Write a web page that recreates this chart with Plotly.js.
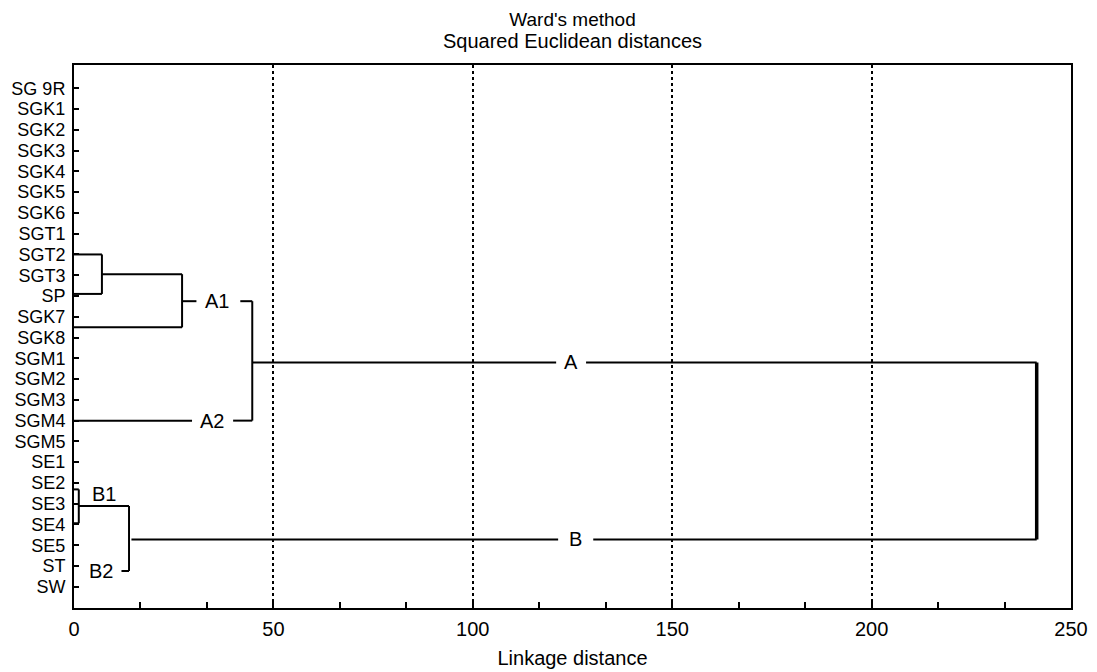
<!DOCTYPE html>
<html>
<head>
<meta charset="utf-8">
<script src="https://cdn.plot.ly/plotly-3.0.1.min.js"></script>
<style>
  html, body { margin: 0; padding: 0; background: #fff; }
  #chart { width: 1097px; height: 672px; }
</style>
</head>
<body>
<div id="chart"></div>
<script>
// ---- Data ----
const rowLabels = ['SG 9R','SGK1','SGK2','SGK3','SGK4','SGK5','SGK6','SGT1','SGT2','SGT3','SP','SGK7','SGK8',
                   'SGM1','SGM2','SGM3','SGM4','SGM5','SE1','SE2','SE3','SE4','SE5','ST','SW'];

// Dendrogram merges (linkage distance, row positions of the joined legs)
const mergeDist        = [7.0, 27.1, 44.7, 1.2, 13.8, 241.4];
const mergeRowTop      = [8.0, 8.95, 10.25, 19.31, 20.11, 13.2];
const mergeRowBottom   = [9.9, 11.51, 16.0, 20.94, 23.24, 21.72];
const mergeStartTop    = [0, 7.0, 27.1, 0, 1.2, 44.7];
const mergeStartBottom = [0, 0, 0, 0, 11.9, 14.4];

// Cluster labels (first four interrupt their legs)
const clusterLabels    = ['A1', 'A2', 'A', 'B', 'B1', 'B2'];
const clusterLabelDist = [35.8, 34.5, 124.65, 125.8, 7.6, 6.8];
const clusterLabelRow  = [10.25, 16.0, 13.2, 21.72, 19.53, 23.24];
const gapFrom = [30.7, 29.6, 120.9, 121.4];
const gapTo   = [41.7, 39.9, 128.4, 130.2];

const xTickVals = [0, 50, 100, 150, 200, 250];

// ---- Build line segments ----
function cutLeg(row, x0, x1) {
  let segs = [[x0, x1]];
  for (let i = 0; i < gapFrom.length; i++) {
    if (Math.abs(clusterLabelRow[i] - row) < 0.02) {
      const a = gapFrom[i], b = gapTo[i];
      segs = segs.flatMap(([s, e]) => {
        if (b <= s || a >= e) return [[s, e]];
        const out = [];
        if (a > s) out.push([s, a]);
        if (b < e) out.push([b, e]);
        return out;
      });
    }
  }
  return segs;
}

const lx = [], ly = [];
const vx = [], vy = [];
const last = mergeDist.length - 1;
for (let k = 0; k < mergeDist.length; k++) {
  const h = mergeDist[k];
  cutLeg(mergeRowTop[k], mergeStartTop[k], h).forEach(([s, e]) => { lx.push(s, e, null); ly.push(mergeRowTop[k], mergeRowTop[k], null); });
  cutLeg(mergeRowBottom[k], mergeStartBottom[k], h).forEach(([s, e]) => { lx.push(s, e, null); ly.push(mergeRowBottom[k], mergeRowBottom[k], null); });
  if (k === last) { vx.push(h, h); vy.push(mergeRowTop[k], mergeRowBottom[k]); }
  else { lx.push(h, h, null); ly.push(mergeRowTop[k], mergeRowBottom[k], null); }
}

const FONT = 'Liberation Sans, Arial, Helvetica, sans-serif';

const traces = [
  { type: 'scatter', mode: 'lines', x: lx, y: ly, line: { color: '#000', width: 2 }, hoverinfo: 'skip', showlegend: false, cliponaxis: false },
  { type: 'scatter', mode: 'lines', x: vx, y: vy, line: { color: '#000', width: 3.5 }, hoverinfo: 'skip', showlegend: false }
];

const annotations = clusterLabels.map((t, i) => ({
  x: clusterLabelDist[i], y: clusterLabelRow[i], xref: 'x', yref: 'y',
  text: t, showarrow: false, font: { family: FONT, size: 20, color: '#000' },
  xanchor: 'center', yanchor: 'middle'
}));
annotations.push({
  xref: 'paper', yref: 'paper', x: 0.5, y: 1, yanchor: 'middle', yshift: 24,
  text: 'Squared Euclidean distances', showarrow: false,
  font: { family: FONT, size: 20, color: '#000' }
});

const layout = {
  width: 1097, height: 672,
  paper_bgcolor: '#fff', plot_bgcolor: '#fff',
  margin: { l: 73.5, r: 26, t: 65, b: 64 },
  font: { family: FONT, color: '#000' },
  title: { text: "Ward's method", x: 0.5, xref: 'paper', xanchor: 'center', y: 1 - 19 / 672, yref: 'container', yanchor: 'middle',
           font: { family: FONT, size: 19, color: '#000' } },
  showlegend: false,
  xaxis: {
    range: [0, 250], tickvals: xTickVals, ticktext: xTickVals.map(String),
    ticks: 'inside', ticklen: 6, tickwidth: 2, tickcolor: '#000',
    minor: { dtick: 50 / 3, tick0: 0, ticks: 'inside', ticklen: 6, tickwidth: 2, tickcolor: '#000', showgrid: false },
    showgrid: true, gridcolor: '#000', gridwidth: 2, griddash: 'dot',
    showline: true, linecolor: '#000', linewidth: 2, mirror: true,
    zeroline: false, ticklabelstandoff: 2,
    tickfont: { family: FONT, size: 20, color: '#000' },
    title: { text: 'Linkage distance', standoff: 12, font: { family: FONT, size: 20, color: '#000' } }
  },
  yaxis: {
    range: [25.02, -1.12],
    tickvals: rowLabels.map((_, i) => i), ticktext: rowLabels,
    ticks: 'inside', ticklen: 5, tickwidth: 2, tickcolor: '#000',
    showgrid: false, zeroline: false,
    showline: true, linecolor: '#000', linewidth: 2, mirror: true,
    ticklabelstandoff: 3,
    tickfont: { family: FONT, size: 18, color: '#000' }
  },
  annotations: annotations
};

Plotly.newPlot('chart', traces, layout, { staticPlot: true, displayModeBar: false });
</script>
</body>
</html>
